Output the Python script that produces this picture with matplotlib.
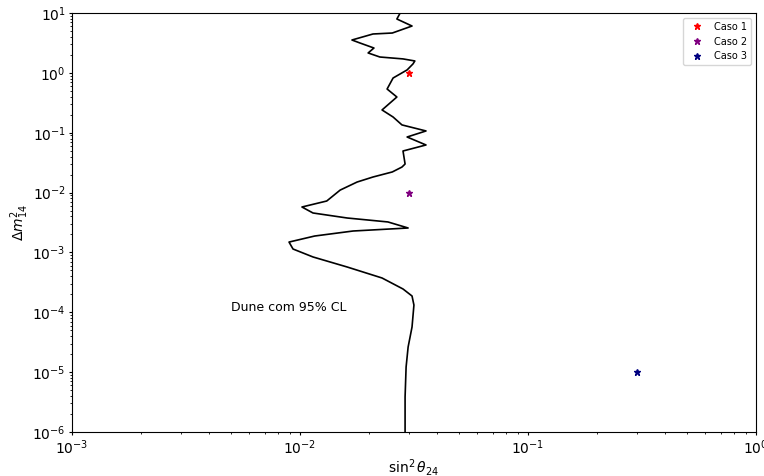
import numpy as np
import matplotlib
matplotlib.use("Agg")
import matplotlib.pyplot as plt

# DUNE 95% CL contour (sin^2 theta_24, Delta m^2_14)
sin2_theta = [0.0275, 0.0266, 0.0310, 0.0254, 0.0209, 0.0169, 0.0183, 0.0211,
              0.0199, 0.0224, 0.0283, 0.0319, 0.0313, 0.0295, 0.0256, 0.0241,
              0.0266, 0.0229, 0.0256, 0.0280, 0.0357, 0.0295, 0.0357, 0.0283,
              0.0289, 0.0280, 0.0254, 0.0209, 0.0178, 0.0150, 0.0131, 0.0102,
              0.0114, 0.0161, 0.0243, 0.0298, 0.0171, 0.0116, 0.00895, 0.00932,
              0.0114, 0.0161, 0.0229, 0.0283, 0.0310, 0.0316, 0.0310, 0.0298,
              0.0292, 0.0289, 0.0289]
dm2 = [10.0, 7.94, 6.06, 4.63, 4.46, 3.54, 3.16, 2.60,
       2.15, 1.84, 1.71, 1.58, 1.41, 1.12, 0.82, 0.537,
       0.395, 0.240, 0.183, 0.135, 0.107, 0.0848, 0.0624, 0.0495,
       0.030, 0.0267, 0.0221, 0.0182, 0.0150, 0.0110, 0.00723, 0.00574,
       0.00456, 0.00376, 0.00323, 0.00256, 0.00228, 0.00188, 0.00149, 0.00114,
       0.00084, 0.000571, 0.000374, 0.000245, 0.000187, 0.000132, 5.68e-5, 2.63e-5,
       1.22e-5, 3.85e-6, 1e-6]

# benchmark points
casos = ["Caso 1", "Caso 2", "Caso 3"]
caso_x = [0.03, 0.03, 0.3]
caso_y = [1.0, 0.01, 1e-5]
caso_cores = ["red", "purple", "navy"]

fig = plt.figure(figsize=(7.64, 4.76), dpi=100)
ax = fig.add_axes([72/764, 1 - 432/476, (756 - 72)/764, (432 - 13)/476])

ax.plot(sin2_theta, dm2, color="black", lw=1.2)
for nome, x, y, c in zip(casos, caso_x, caso_y, caso_cores):
    ax.plot(x, y, "*", color=c, markersize=5, label=nome)

ax.text(0.005, 1.2e-4, "Dune com 95% CL", fontsize=9, va="center")

ax.set_xscale("log")
ax.set_yscale("log")
ax.set_xlim(1e-3, 1)
ax.set_ylim(1e-6, 10)
ax.tick_params(which="major", length=2.5, pad=2.0)
ax.tick_params(which="minor", length=1.5)
ax.set_xlabel(r"$\sin^2\theta_{24}$", labelpad=0)
ax.set_ylabel(r"$\Delta m^2_{14}$", labelpad=1)
ax.legend(loc="upper right", fontsize=7)

fig.savefig("out.png", dpi=100)
